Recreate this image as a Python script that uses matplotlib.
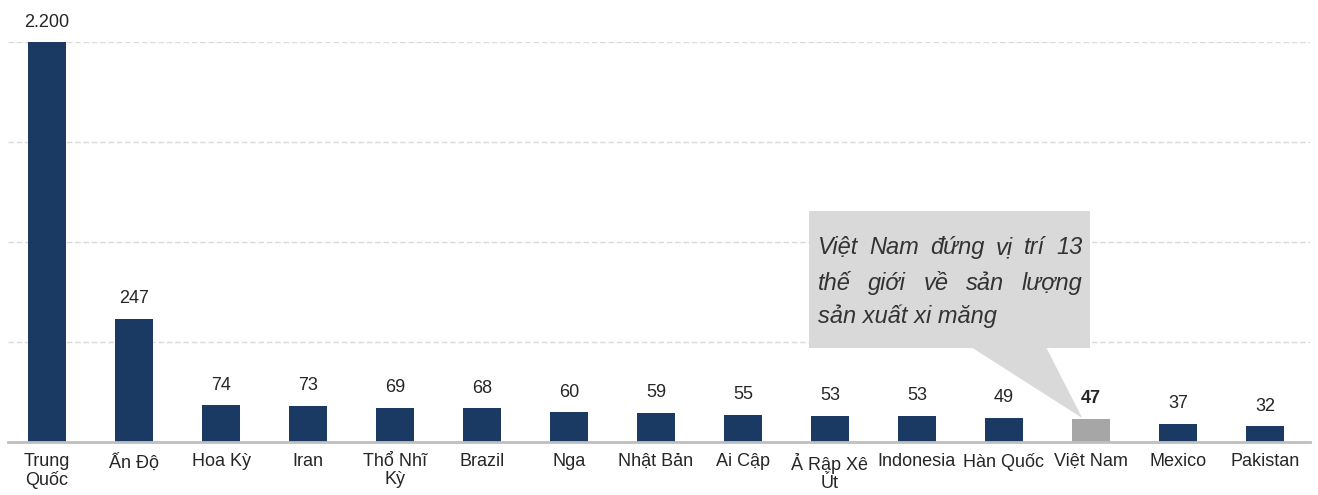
import matplotlib
matplotlib.use('Agg')
import matplotlib.pyplot as plt
from matplotlib.patches import Polygon

plt.rcParams['font.family'] = ['Liberation Sans', 'DejaVu Sans']

countries = ['Trung\nQuốc', 'Ấn Độ', 'Hoa Kỳ', 'Iran', 'Thổ Nhĩ\nKỳ', 'Brazil', 'Nga',
             'Nhật Bản', 'Ai Cập', 'Ả Rập Xê\nÚt', 'Indonesia', 'Hàn Quốc', 'Việt Nam',
             'Mexico', 'Pakistan']
values = [2200, 247, 74, 73, 69, 68, 60, 59, 55, 53, 53, 49, 47, 37, 32]
value_labels = ['2.200', '247', '74', '73', '69', '68', '60', '59', '55', '53', '53',
                '49', '47', '37', '32']
highlight = 'Việt Nam'
note_lines = ['Việt Nam đứng vị trí 13', 'thế giới về sản lượng', 'sản xuất xi măng']

#axis is cut at 800, the first bar runs off the top
y_max = 800
navy = '#1b3a63'
grey_bar = '#a6a6a6'
text_col = '#262626'

fig = plt.figure(figsize=(13.18, 4.95), dpi=100)
ax = fig.add_axes([0.006, 0.107, 0.988, 0.808])

x = list(range(len(countries)))
heights = [min(v, y_max) for v in values]
colors = [grey_bar if c == highlight else navy for c in countries]
ax.bar(x, heights, width=0.43, color=colors, zorder=3)

for i, (h, lab) in enumerate(zip(heights, value_labels)):
    bold = countries[i] == highlight
    ax.annotate(lab, (i, h), xytext=(0, 8), textcoords='offset points', ha='center',
                va='bottom', fontsize=13, color=text_col, clip_on=False,
                fontweight='bold' if bold else 'normal')

ax.set_xlim(-0.45, 14.52)
ax.set_ylim(0, y_max)
ax.set_yticks([200, 400, 600, 800])
ax.yaxis.grid(True, color='#d9d9d9', linestyle=(0, (4, 2)), linewidth=1, zorder=0)
ax.tick_params(axis='y', left=False, labelleft=False)
ax.set_xticks(x)
ax.set_xticklabels(countries, fontsize=13, color=text_col, linespacing=1.05)
ax.tick_params(axis='x', length=0, pad=8)
for s in ['top', 'right', 'left']:
    ax.spines[s].set_visible(False)
ax.spines['bottom'].set_color('#bfbfbf')
ax.spines['bottom'].set_linewidth(2)
ax.spines['bottom'].set_zorder(4)

# callout pointing at the Viet Nam bar
vn = countries.index(highlight)
bx0, bx1, by0, by1 = 8.76, 11.99, 188, 462
tip = (vn - 0.1, values[vn] + 1)
callout = Polygon([(bx0, by0), (10.64, by0), tip, (11.49, by0), (bx1, by0),
                   (bx1, by1), (bx0, by1)], closed=True, facecolor='#d9d9d9',
                  edgecolor='none', zorder=5)
ax.add_patch(callout)

tx0, tx1 = 8.86, 11.90
baselines = [376, 304, 238]
note_style = dict(fontsize=17, style='italic', color='#333333', va='baseline', zorder=6)

fig.canvas.draw()
renderer = fig.canvas.get_renderer()
inv = ax.transData.inverted()
for li, (line, yb) in enumerate(zip(note_lines, baselines)):
    if li == len(note_lines) - 1:
        ax.text(tx0, yb, line, ha='left', **note_style)
        continue
    # justify: spread the words across the box width
    words = line.split(' ')
    objs = [ax.text(tx0, yb, w, ha='left', **note_style) for w in words]
    widths = []
    for t in objs:
        bb = t.get_window_extent(renderer)
        p0 = inv.transform((bb.x0, bb.y0))
        p1 = inv.transform((bb.x1, bb.y0))
        widths.append(p1[0] - p0[0])
    gap = (tx1 - tx0 - sum(widths)) / (len(words) - 1)
    pos = tx0
    for t, w in zip(objs, widths):
        t.set_x(pos)
        pos += w + gap

fig.savefig('out.png', dpi=100)
